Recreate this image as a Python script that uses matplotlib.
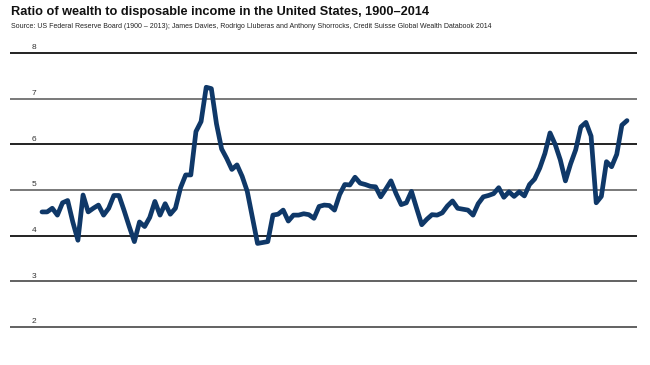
import matplotlib
matplotlib.use("Agg")
import matplotlib.pyplot as plt

years = list(range(1900, 2015))
ratio = [
    4.52, 4.52, 4.60, 4.45, 4.72, 4.77, 4.30, 3.90, 4.89, 4.52,  # 1900-1909
    4.60, 4.67, 4.45, 4.60, 4.88, 4.88, 4.55, 4.20, 3.87, 4.30,  # 1910-1919
    4.20, 4.40, 4.75, 4.45, 4.70, 4.47, 4.60, 5.05, 5.33, 5.33,  # 1920-1929
    6.28, 6.50, 7.25, 7.22, 6.45, 5.90, 5.69, 5.45, 5.55, 5.30,  # 1930-1939
    4.97, 4.40, 3.83, 3.85, 3.87, 4.45, 4.47, 4.56, 4.32, 4.45,  # 1940-1949
    4.45, 4.48, 4.46, 4.38, 4.64, 4.67, 4.66, 4.56, 4.90, 5.12,  # 1950-1959
    5.11, 5.28, 5.15, 5.12, 5.08, 5.07, 4.85, 5.02, 5.20, 4.92,  # 1960-1969
    4.68, 4.72, 4.97, 4.60, 4.24, 4.36, 4.46, 4.45, 4.50, 4.65,  # 1970-1979
    4.76, 4.60, 4.58, 4.56, 4.45, 4.70, 4.85, 4.88, 4.92, 5.05,  # 1980-1989
    4.84, 4.96, 4.86, 4.96, 4.87, 5.12, 5.24, 5.48, 5.80, 6.25,  # 1990-1999
    6.00, 5.66, 5.20, 5.57, 5.88, 6.38, 6.48, 6.18, 4.72, 4.86,  # 2000-2009
    5.62, 5.51, 5.78, 6.42, 6.52,                                # 2010-2014
]
y_ticks = [2, 3, 4, 5, 6, 7, 8]
title = "Ratio of wealth to disposable income in the United States, 1900\u20132014"
source = ("Source: US Federal Reserve Board (1900 \u2013 2013); James Davies, Rodrigo Lluberas "
          "and Anthony Shorrocks, Credit Suisse Global Wealth Databook 2014")

W, H = 650, 365
fig = plt.figure(figsize=(6.5, 3.65), dpi=100)
fig.patch.set_facecolor("white")

# axes geometry in pixels
px_left, px_right = 10, 637
px_top, px_bottom = 44, 365
ax = fig.add_axes([px_left / W, 1 - px_bottom / H, (px_right - px_left) / W, (px_bottom - px_top) / H])

# data mapping: 1900 -> x=42px, 2014 -> 627px ; 8 -> 53px, 2 -> 327px
ppy = (627 - 42) / 114.0
x0 = 1900 - (42 - px_left) / ppy
x1 = 2014 + (px_right - 627) / ppy
ppu = (327 - 53) / 6.0
y1 = 8 + (53 - px_top) / ppu
y0 = 2 - (px_bottom - 327) / ppu
ax.set_xlim(x0, x1)
ax.set_ylim(y0, y1)

grid_colors = {8: "#111111", 7: "#6e6e6e", 6: "#111111", 5: "#6e6e6e",
               4: "#111111", 3: "#555555", 2: "#555555"}
for t in y_ticks:
    ax.axhline(t, color=grid_colors[t], lw=1.3, zorder=1)
    ax.text(x0 + 21.5 / ppy, t + 0.04, str(t), fontsize=6, color="#333333",
            ha="left", va="bottom", family="Liberation Sans", zorder=2)

ax.plot(years, ratio, color="#0f3868", lw=3.4, solid_joinstyle="round",
        solid_capstyle="round", zorder=3)

ax.axis("off")

fig.text(11 / W, 1 - 15.5 / H, title, fontsize=9.2, fontweight="bold",
         family="Liberation Sans", ha="left", va="baseline", color="#111111")
fig.text(11 / W, 1 - 27.8 / H, source, fontsize=5.0, family="Liberation Sans",
         ha="left", va="baseline", color="#222222")

fig.savefig("out.png", dpi=100, facecolor="white")
